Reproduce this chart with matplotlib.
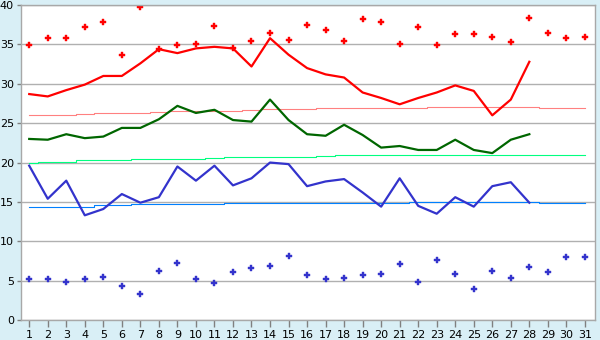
import matplotlib
matplotlib.use("Agg")
import matplotlib.pyplot as plt

days = list(range(1, 32))
day_labels = [str(d) for d in days]

rec_max = [34.9, 35.8, 35.8, 37.2, 37.9, 33.6, 39.7, 34.4, 34.9, 35.1,
           37.4, 34.6, 35.5, 36.4, 35.6, 37.5, 36.8, 35.4, 38.2, 37.8,
           35.0, 37.2, 34.9, 36.3, 36.3, 36.0, 35.3, 38.3, 36.4, 35.8, 36.0]
tmax = [28.7, 28.4, 29.2, 29.9, 31.0, 31.0, 32.6, 34.4, 33.9, 34.5,
        34.7, 34.5, 32.2, 35.8, 33.7, 32.0, 31.2, 30.8, 28.9, 28.2,
        27.4, 28.2, 28.9, 29.8, 29.1, 26.0, 28.0, 32.8]
norm_max = [26.0, 26.1, 26.1, 26.2, 26.3, 26.3, 26.3, 26.4, 26.5, 26.5,
            26.6, 26.6, 26.7, 26.8, 26.8, 26.8, 26.9, 26.9, 26.9, 26.9,
            26.9, 26.9, 27.0, 27.0, 27.0, 27.0, 27.0, 27.0, 26.9, 26.9, 26.9]
tavg = [23.0, 22.9, 23.6, 23.1, 23.3, 24.4, 24.4, 25.5, 27.2, 26.3,
        26.7, 25.4, 25.2, 28.0, 25.4, 23.6, 23.4, 24.8, 23.5, 21.9,
        22.1, 21.6, 21.6, 22.9, 21.6, 21.2, 22.9, 23.6]
norm_avg = [20.0, 20.1, 20.1, 20.3, 20.3, 20.3, 20.4, 20.4, 20.5, 20.5,
            20.6, 20.7, 20.7, 20.7, 20.7, 20.7, 20.8, 20.9, 20.9, 20.9,
            20.9, 20.9, 20.9, 21.0, 21.0, 21.0, 21.0, 21.0, 21.0, 21.0, 21.0]
tmin = [19.6, 15.4, 17.7, 13.3, 14.1, 16.0, 14.9, 15.6, 19.5, 17.7,
        19.6, 17.1, 18.0, 20.0, 19.8, 17.0, 17.6, 17.9, 16.2, 14.4,
        18.0, 14.5, 13.5, 15.6, 14.4, 17.0, 17.5, 14.9]
norm_min = [14.3, 14.3, 14.4, 14.4, 14.6, 14.6, 14.7, 14.7, 14.7, 14.7,
            14.7, 14.8, 14.8, 14.8, 14.8, 14.8, 14.8, 14.9, 14.9, 14.9,
            14.9, 15.0, 15.0, 15.0, 15.0, 15.0, 15.0, 15.0, 14.9, 14.9, 14.9]
rec_min = [5.2, 5.2, 4.8, 5.2, 5.5, 4.3, 3.3, 6.2, 7.2, 5.2,
           4.7, 6.1, 6.6, 6.8, 8.1, 5.7, 5.2, 5.3, 5.7, 5.8,
           7.1, 4.8, 7.6, 5.8, 3.9, 6.2, 5.3, 6.7, 6.1, 8.0, 8.0]

y_ticks = [0, 5, 10, 15, 20, 25, 30, 35, 40]

bg = "#d9eff6"
grid_c = "#b0b0b0"

fig = plt.figure(figsize=(6, 3.4), dpi=100, facecolor=bg)
ax = fig.add_axes([0.0345, 0.0588, 0.957, 0.9262])
ax.set_facecolor("white")

ax.set_xlim(0.54, 31.54)
ax.set_ylim(0, 40)
ax.set_yticks(y_ticks)
ax.set_yticklabels([str(v) for v in y_ticks])
ax.set_xticks(days)
ax.set_xticklabels(day_labels)
ax.yaxis.grid(True, color=grid_c, linewidth=1.0)
ax.set_axisbelow(True)

for s in ax.spines.values():
    s.set_color("#a8a8a8")
    s.set_linewidth(1.0)

ax.tick_params(axis="x", direction="out", length=5, width=1, color="#808080",
               labelsize=8, pad=2, labelcolor="black")
ax.tick_params(axis="y", direction="out", length=3, width=1, color="#808080",
               labelsize=8, pad=2, labelcolor="black")

ax.plot(days, norm_max, color="#ff8080", lw=0.8, drawstyle="steps-mid")
ax.plot(days, norm_avg, color="#00ff80", lw=0.8, drawstyle="steps-mid")
ax.plot(days, norm_min, color="#0080ff", lw=0.8, drawstyle="steps-mid")

ax.plot(days[:len(tmax)], tmax, color="#ff0000", lw=1.6)
ax.plot(days[:len(tavg)], tavg, color="#006600", lw=1.6)
ax.plot(days[:len(tmin)], tmin, color="#3333cc", lw=1.6)

ax.plot(days, rec_max, linestyle="none", marker="P", ms=3.8, color="#ff0000", mec="#ff0000", mew=0.3)
ax.plot(days, rec_min, linestyle="none", marker="P", ms=3.8, color="#3333cc", mec="#3333cc", mew=0.3)

fig.savefig("out.png", dpi=100, facecolor=bg)
